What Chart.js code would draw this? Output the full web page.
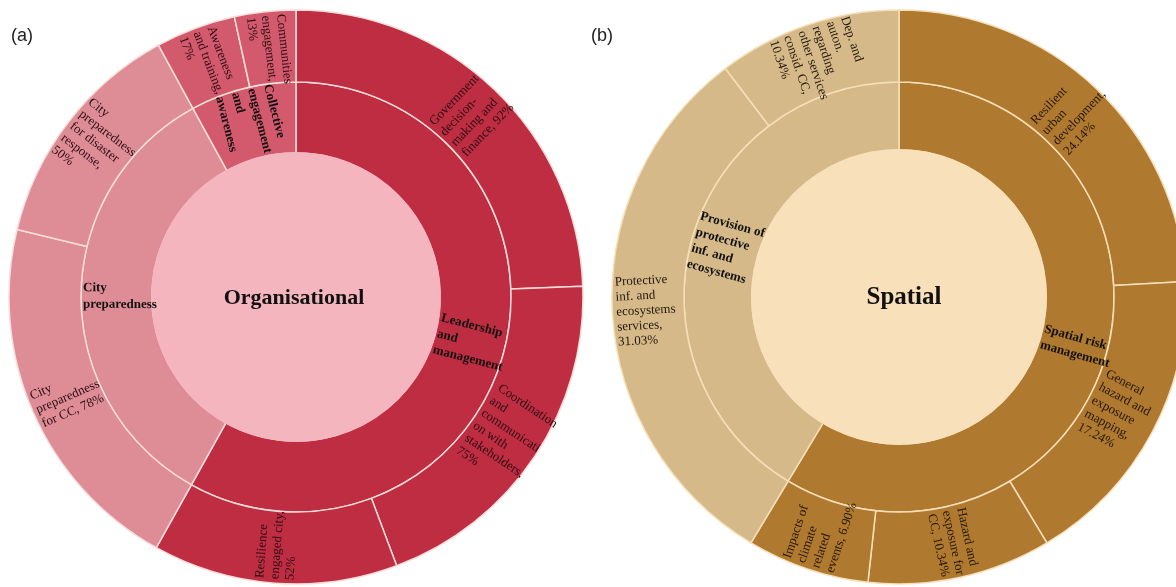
<!DOCTYPE html>
<html>
<head>
<meta charset="utf-8">
<script src="https://cdn.jsdelivr.net/npm/chart.js@4.4.1/dist/chart.umd.min.js"></script>
<style>
html, body { margin: 0; padding: 0; background: #fff; width: 1176px; height: 587px; overflow: hidden; }
canvas { position: absolute; }
.panel { position: absolute; font: 18px 'Liberation Sans', Arial, sans-serif; line-height: 18px; color: #222; }
</style>
</head>
<body>
<canvas id="grafico1" width="576" height="576" style="left:8px; top:9px"></canvas>
<canvas id="grafico2" width="576" height="576" style="left:611px; top:9px"></canvas>
<div class="panel" style="left:11px; top:26px">(a)</div>
<div class="panel" style="left:591px; top:26px">(b)</div>
<script>
// (a) Organisational
const orgCategories = ['Leadership and management', 'City preparedness', 'Collective engagement and awareness']
const orgCategoryValues = [219, 128, 30]
const orgSubcategories = [
    'Government decision-making and finance',
    'Coordination and communication with stakeholders',
    'Resilience engaged city',
    'City preparedness for CC',
    'City preparedness for disaster response',
    'Awareness and training',
    'Communities engagement'
]
const orgSubValues = [92, 75, 52, 78, 50, 17, 13]
const orgSubParent = [0, 0, 0, 1, 1, 2, 2]
// how the labels are broken into lines ('%' is replaced by the value)
const orgCategoryLines = [['Leadership', 'and', 'management'], ['City', 'preparedness'], ['Collective', 'engagement', 'and', 'awareness']]
const orgSubLines = [
    ['Government', 'decision-', 'making and', 'finance, %'],
    ['Coordination', 'and', 'communicati', 'on with', 'stakeholders,', '%'],
    ['Resilience', 'engaged city,', '%'],
    ['City', 'preparedness', 'for CC, %'],
    ['City', 'preparedness', 'for disaster', 'response,', '%'],
    ['Awareness', 'and training,', '%'],
    ['Communities', 'engagement,', '%']
]

// (b) Spatial
const spaCategories = ['Spatial risk management', 'Provision of protective inf. and ecosystems']
const spaCategoryValues = [58.62, 41.37]
const spaSubcategories = [
    'Resilient urban development',
    'General hazard and exposure mapping',
    'Hazard and exposure for CC',
    'Impacts of climate related events',
    'Protective inf. and ecosystems services',
    'Dep. and auton. regarding other services consid. CC'
]
const spaSubValues = [24.14, 17.24, 10.34, 6.90, 31.03, 10.34]
const spaSubParent = [0, 0, 0, 0, 1, 1]
const spaCategoryLines = [['Spatial risk', 'management'], ['Provision of', 'protective', 'inf. and', 'ecosystems']]
const spaSubLines = [
    ['Resilient', 'urban', 'development,', '%'],
    ['General', 'hazard and', 'exposure', 'mapping,', '%'],
    ['Hazard and', 'exposure for', 'CC, %'],
    ['Impacts of', 'climate', 'related', 'events, %'],
    ['Protective', 'inf. and', 'ecosystems', 'services,', '%'],
    ['Dep. and', 'auton.', 'regarding', 'other services', 'consid. CC,', '%']
]

const serif = "'Liberation Serif', 'Times New Roman', serif"

function fillLines(lines, values, fmt) {
    return lines.map((ls, i) => ls.map(t => t.replace('%', fmt(values[i]))))
}

// text laid along the radius of each arc, flipped on the left half
const arcLabels = {
    id: 'arcLabels',
    afterDatasetsDraw(chart, args, opts) {
        const ctx = chart.ctx
        chart.data.datasets.forEach((ds, i) => {
            if (!ds.lines) return
            chart.getDatasetMeta(i).data.forEach((arc, j) => {
                const lines = ds.lines[j]
                const p = arc.getProps(['x', 'y', 'startAngle', 'endAngle', 'innerRadius', 'outerRadius'], true)
                const mid = (p.startAngle + p.endAngle) / 2
                const a = Math.atan2(Math.sin(mid), Math.cos(mid))
                const flip = Math.abs(a) > Math.PI / 2
                ctx.save()
                ctx.translate(p.x, p.y)
                ctx.rotate(flip ? a + Math.PI : a)
                ctx.font = ds.labelFont
                ctx.fillStyle = ds.labelColor
                ctx.textAlign = 'left'
                ctx.textBaseline = 'middle'
                const x0 = flip ? -(p.outerRadius - ds.labelPad) : p.innerRadius + ds.labelPad
                lines.forEach((t, k) => {
                    ctx.fillText(t, x0, (k - (lines.length - 1) / 2) * ds.lineHeight)
                })
                ctx.restore()
            })
        })
        const c = chart.getDatasetMeta(2).data[0]
        ctx.save()
        ctx.font = opts.font
        ctx.fillStyle = '#111'
        ctx.textAlign = 'center'
        ctx.textBaseline = 'middle'
        ctx.fillText(opts.text, c.x + opts.dx, c.y + 1)
        ctx.restore()
    }
}

function sunburst(id, s) {
    return new Chart(document.getElementById(id), {
        type: 'doughnut',
        data: {
            labels: s.subLabels,
            datasets: [{
                data: s.subValues,
                backgroundColor: s.subParent.map(g => s.colors[g]),
                borderColor: s.border,
                borderWidth: 1.5,
                weight: 72,
                lines: s.subLines,
                labelFont: '13px ' + serif,
                labelColor: s.textColor,
                lineHeight: 15,
                labelPad: 4
            }, {
                data: s.catValues,
                backgroundColor: s.colors,
                borderColor: s.border,
                borderWidth: 1.5,
                weight: s.innerWeight,
                lines: s.catLines,
                labelFont: 'bold 13px ' + serif,
                labelColor: '#111',
                lineHeight: 16.5,
                labelPad: 2
            }, {
                data: [1],
                backgroundColor: s.center,
                borderColor: s.center,
                borderWidth: 2,
                weight: s.centerWeight,
                order: -1
            }]
        },
        plugins: [arcLabels],
        options: {
            responsive: false,
            animation: false,
            events: [],
            radius: 287,
            cutout: 0,
            layout: { padding: 0 },
            plugins: {
                legend: { display: false },
                tooltip: { enabled: false },
                arcLabels: { text: s.title, font: s.titleFont, dx: s.titleDx }
            }
        }
    })
}

sunburst('grafico1', {
    title: 'Organisational',
    titleFont: 'bold 22px ' + serif,
    titleDx: -2,
    subLabels: orgSubcategories,
    subValues: orgSubValues,
    subParent: orgSubParent,
    subLines: fillLines(orgSubLines, orgSubValues, v => v + '%'),
    catValues: orgCategoryValues,
    catLines: orgCategoryLines,
    colors: ['#BE2D42', '#DE8D97', '#D35A6D'],
    center: '#F4B5BE',
    border: '#F8DDD8',
    textColor: '#2b0c12',
    innerWeight: 71,
    centerWeight: 144
})

sunburst('grafico2', {
    title: 'Spatial',
    titleFont: 'bold 25px ' + serif,
    titleDx: 5,
    subLabels: spaSubcategories,
    subValues: spaSubValues,
    subParent: spaSubParent,
    subLines: fillLines(spaSubLines, spaSubValues, v => v.toFixed(2) + '%'),
    catValues: spaCategoryValues,
    catLines: spaCategoryLines,
    colors: ['#B07930', '#D5B989'],
    center: '#F7E0BA',
    border: '#F6DFB8',
    textColor: '#24170a',
    innerWeight: 68,
    centerWeight: 147
})
</script>
</body>
</html>
